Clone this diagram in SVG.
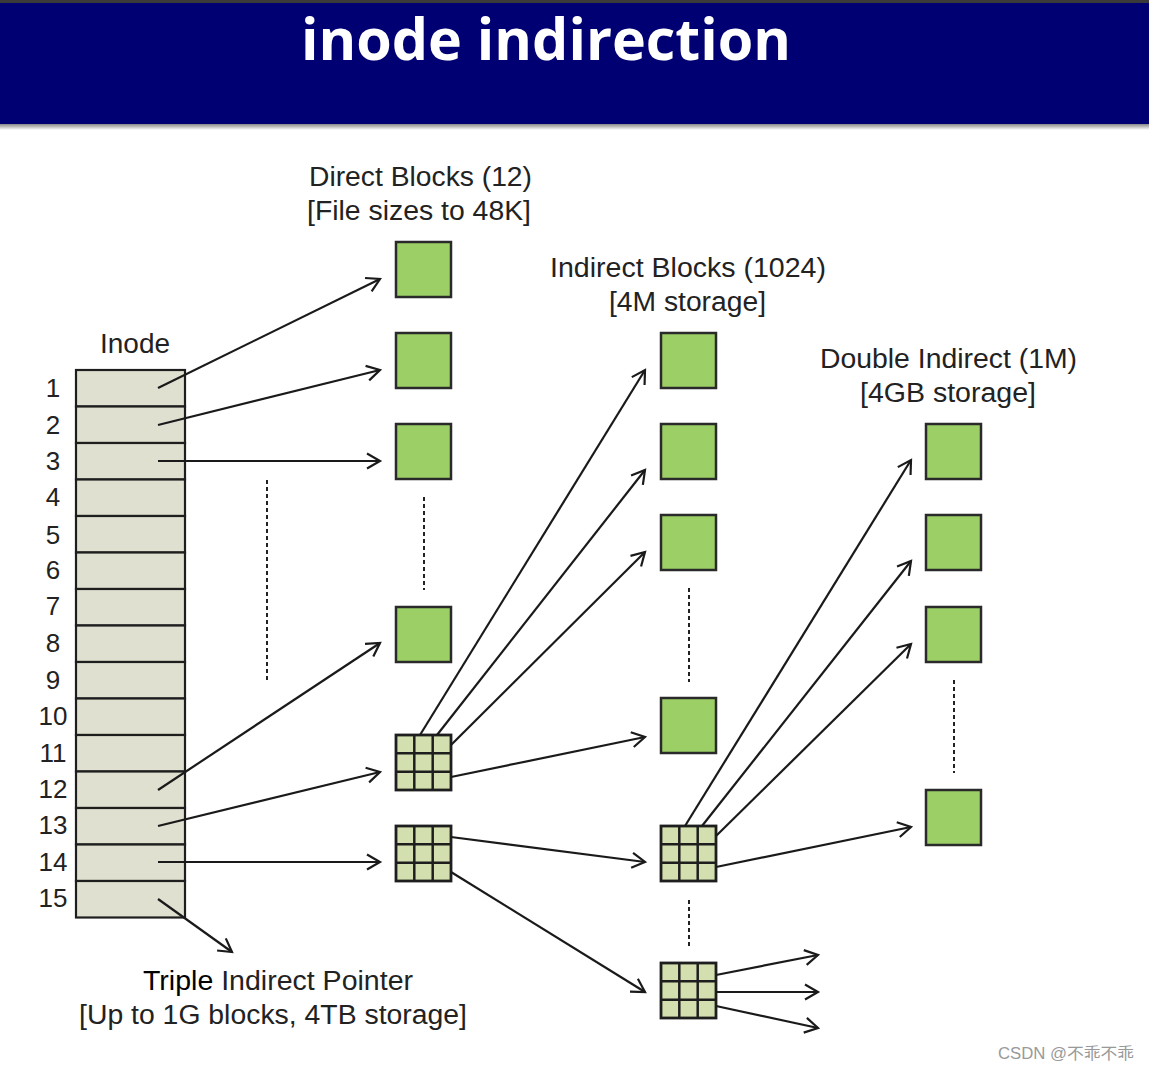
<svg xmlns="http://www.w3.org/2000/svg" width="1149" height="1071" viewBox="0 0 1149 1071">
<style>
.lbl{font-family:"Liberation Sans",Arial,sans-serif;font-size:27px;fill:#222;text-anchor:middle}
.num{font-family:"Liberation Sans",Arial,sans-serif;font-size:26px;fill:#222;text-anchor:middle}
.blk{fill:#9ccf66;stroke:#2a2a2a;stroke-width:2.5}
.grid{fill:#d3dfae;stroke:#1e1e1e;stroke-width:2.8}
.gl{stroke:#1e1e1e;stroke-width:2.5}
.row{fill:#dfe0d0;stroke:#1e1e1e;stroke-width:2.2}
.con line{stroke:#1a1a1a;stroke-width:2.2;fill:none;marker-end:url(#ah)}
.dash{stroke:#222;stroke-width:2;stroke-dasharray:4 3;fill:none}
</style>
<defs>
<marker id="ah" viewBox="0 0 22 22" refX="18" refY="11" markerWidth="22" markerHeight="22" markerUnits="userSpaceOnUse" orient="auto">
<path d="M5,3.5 L18,11 L5,18.5" fill="none" stroke="#1a1a1a" stroke-width="2.2"/>
</marker>
<linearGradient id="sh" x1="0" y1="0" x2="0" y2="1">
<stop offset="0" stop-color="#888"/><stop offset="1" stop-color="#fff"/>
</linearGradient>
<symbol id="g3" viewBox="0 0 55 55" overflow="visible">
<rect class="grid" x="0" y="0" width="55" height="55"/>
<line class="gl" x1="18.3" y1="0" x2="18.3" y2="55"/>
<line class="gl" x1="36.7" y1="0" x2="36.7" y2="55"/>
<line class="gl" x1="0" y1="18.3" x2="55" y2="18.3"/>
<line class="gl" x1="0" y1="36.7" x2="55" y2="36.7"/>
</symbol>
</defs>
<rect width="1149" height="1071" fill="#fff"/>
<g id="header">
<rect x="0" y="0" width="1149" height="3" fill="#3a3a3a"/>
<rect x="0" y="3" width="1149" height="121" fill="#000073"/>
<rect x="0" y="124" width="1149" height="6" fill="url(#sh)"/>
<text x="546" y="60" font-family="'Open Sans','Noto Sans',sans-serif" font-weight="bold" font-size="58" fill="#fff" text-anchor="middle" textLength="490" lengthAdjust="spacingAndGlyphs">inode indirection</text>
</g>
<g id="inode">
<text class="lbl" x="135" y="353" textLength="70" lengthAdjust="spacingAndGlyphs">Inode</text>
<rect class="row" x="76" y="370" width="109" height="36.5"/>
<rect class="row" x="76" y="406.5" width="109" height="36.5"/>
<rect class="row" x="76" y="443" width="109" height="36.5"/>
<rect class="row" x="76" y="479.5" width="109" height="36.5"/>
<rect class="row" x="76" y="516" width="109" height="36.5"/>
<rect class="row" x="76" y="552.5" width="109" height="36.5"/>
<rect class="row" x="76" y="589" width="109" height="36.5"/>
<rect class="row" x="76" y="625.5" width="109" height="36.5"/>
<rect class="row" x="76" y="662" width="109" height="36.5"/>
<rect class="row" x="76" y="698.5" width="109" height="36.5"/>
<rect class="row" x="76" y="735" width="109" height="36.5"/>
<rect class="row" x="76" y="771.5" width="109" height="36.5"/>
<rect class="row" x="76" y="808" width="109" height="36.5"/>
<rect class="row" x="76" y="844.5" width="109" height="36.5"/>
<rect class="row" x="76" y="881" width="109" height="36.5"/>
<text class="num" x="53" y="397">1</text>
<text class="num" x="53" y="434">2</text>
<text class="num" x="53" y="470">3</text>
<text class="num" x="53" y="506">4</text>
<text class="num" x="53" y="544">5</text>
<text class="num" x="53" y="579">6</text>
<text class="num" x="53" y="615">7</text>
<text class="num" x="53" y="652">8</text>
<text class="num" x="53" y="689">9</text>
<text class="num" x="53" y="725">10</text>
<text class="num" x="53" y="762">11</text>
<text class="num" x="53" y="798">12</text>
<text class="num" x="53" y="834">13</text>
<text class="num" x="53" y="871">14</text>
<text class="num" x="53" y="907">15</text>
</g>
<g id="direct">
<text class="lbl" x="420.5" y="186" textLength="223" lengthAdjust="spacingAndGlyphs">Direct Blocks (12)</text>
<text class="lbl" x="419" y="220" textLength="224" lengthAdjust="spacingAndGlyphs">[File sizes to 48K]</text>
<rect class="blk" x="396" y="242" width="55" height="55"/>
<rect class="blk" x="396" y="333" width="55" height="55"/>
<rect class="blk" x="396" y="424" width="55" height="55"/>
<rect class="blk" x="396" y="607" width="55" height="55"/>
<line class="dash" x1="424" y1="497" x2="424" y2="590"/>
<line class="dash" x1="267" y1="480" x2="267" y2="683"/>
</g>
<g id="indirect1"><use href="#g3" x="396" y="735" width="55" height="55"/></g>
<g id="indirect2"><use href="#g3" x="396" y="826" width="55" height="55"/></g>
<g id="indirect-blocks">
<text class="lbl" x="688" y="277" textLength="276" lengthAdjust="spacingAndGlyphs">Indirect Blocks (1024)</text>
<text class="lbl" x="687.5" y="311" textLength="157" lengthAdjust="spacingAndGlyphs">[4M storage]</text>
<rect class="blk" x="661" y="333" width="55" height="55"/>
<rect class="blk" x="661" y="424" width="55" height="55"/>
<rect class="blk" x="661" y="515" width="55" height="55"/>
<rect class="blk" x="661" y="698" width="55" height="55"/>
<line class="dash" x1="689" y1="588" x2="689" y2="682"/>
</g>
<g id="dbl1"><use href="#g3" x="661" y="826" width="55" height="55"/></g>
<g id="dbl2"><use href="#g3" x="661" y="963" width="55" height="55"/></g>
<line class="dash" x1="689" y1="900" x2="689" y2="946"/>
<g id="double-blocks">
<text class="lbl" x="948.5" y="368" textLength="257" lengthAdjust="spacingAndGlyphs">Double Indirect (1M)</text>
<text class="lbl" x="948" y="402" textLength="176" lengthAdjust="spacingAndGlyphs">[4GB storage]</text>
<rect class="blk" x="926" y="424" width="55" height="55"/>
<rect class="blk" x="926" y="515" width="55" height="55"/>
<rect class="blk" x="926" y="607" width="55" height="55"/>
<rect class="blk" x="926" y="790" width="55" height="55"/>
<line class="dash" x1="954" y1="680" x2="954" y2="773"/>
</g>
<g id="triple-label">
<text class="lbl" x="278" y="990" textLength="270" lengthAdjust="spacingAndGlyphs"><tspan fill="#000">Triple</tspan> Indirect Pointer</text>
<text class="lbl" x="273" y="1024" textLength="388" lengthAdjust="spacingAndGlyphs">[Up to 1G blocks, 4TB storage]</text>
</g>
<g class="con" id="connectors">
<line x1="158" y1="388" x2="380" y2="279"/>
<line x1="158" y1="425" x2="380" y2="370"/>
<line x1="158" y1="461" x2="380" y2="461"/>
<line x1="158" y1="790" x2="380" y2="643"/>
<line x1="158" y1="826" x2="380" y2="772"/>
<line x1="158" y1="862" x2="380" y2="862"/>
<line x1="158" y1="899" x2="232" y2="952"/>
<line x1="420" y1="735" x2="645" y2="370"/>
<line x1="437" y1="735" x2="645" y2="470"/>
<line x1="451" y1="745" x2="645" y2="552"/>
<line x1="451" y1="777" x2="645" y2="737"/>
<line x1="451" y1="837" x2="645" y2="862"/>
<line x1="451" y1="872" x2="645" y2="992"/>
<line x1="685" y1="826" x2="911" y2="460"/>
<line x1="702" y1="826" x2="911" y2="561"/>
<line x1="716" y1="836" x2="911" y2="644"/>
<line x1="716" y1="867" x2="911" y2="827"/>
<line x1="716" y1="975" x2="818" y2="955"/>
<line x1="716" y1="992" x2="818" y2="992"/>
<line x1="716" y1="1006" x2="818" y2="1028"/>
</g>
<text x="1134" y="1059" font-family="'Liberation Sans','Noto Sans CJK SC',sans-serif" font-size="16" fill="#999" text-anchor="end" textLength="136" lengthAdjust="spacingAndGlyphs">CSDN @不乖不乖</text>
</svg>
